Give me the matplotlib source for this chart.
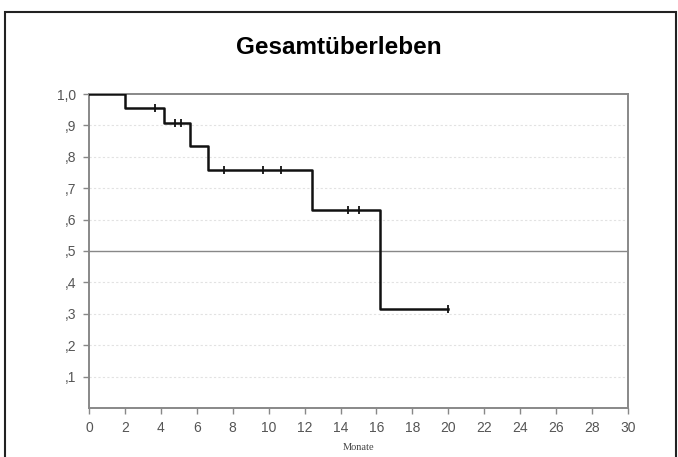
import matplotlib.pyplot as plt
from matplotlib.patches import Rectangle

# Kaplan-Meier Schritte (Monate, Überlebensrate)
step_times = [0, 2.0, 4.2, 5.6, 6.6, 12.4, 16.2, 20.0]
step_surv = [1.0, 0.955, 0.909, 0.833, 0.758, 0.632, 0.316, 0.316]

# zensierte Fälle
censor_times = [3.7, 4.8, 5.1, 7.5, 9.7, 10.7, 14.4, 15.0, 20.0]
censor_surv = [0.955, 0.909, 0.909, 0.758, 0.758, 0.758, 0.632, 0.632, 0.316]

x_ticks = list(range(0, 31, 2))
y_ticks = [0.1, 0.2, 0.3, 0.4, 0.5, 0.6, 0.7, 0.8, 0.9, 1.0]
y_labels = [',1', ',2', ',3', ',4', ',5', ',6', ',7', ',8', ',9', '1,0']

fig = plt.figure(figsize=(6.78, 4.57), dpi=100)

# outer frame
fig.patches.append(Rectangle((5 / 678, -0.05), 671 / 678, 1.05 - 12 / 457,
                             transform=fig.transFigure, fill=False,
                             edgecolor='#222222', linewidth=1.5))

fig.text(0.5, 1 - 47 / 457, 'Gesamtüberleben', ha='center', va='center',
         fontsize=17.5, fontweight='bold', family='Liberation Sans')

ax = fig.add_axes([89 / 678, 1 - 408 / 457, 539 / 678, 314 / 457])

for y in y_ticks:
    if y == 0.5:
        ax.axhline(y, color='#888888', linewidth=1.0, zorder=1)
    elif y < 1.0:
        ax.axhline(y, color='#e2e2e2', linewidth=0.8, linestyle=(0, (2, 2)), zorder=1)

ax.step(step_times, step_surv, where='post', color='#111111', linewidth=1.8, zorder=3)
ax.plot(censor_times, censor_surv, linestyle='none', marker='|', markersize=5.5,
        markeredgewidth=1.3, color='#111111', zorder=4)

ax.set_xlim(0, 30)
ax.set_ylim(0, 1.0)
ax.set_xticks(x_ticks)
ax.set_xticklabels([str(t) for t in x_ticks], family='Liberation Sans')
ax.set_yticks(y_ticks)
ax.set_yticklabels(y_labels, family='Liberation Sans')

for s in ax.spines.values():
    s.set_color('#888888')
    s.set_linewidth(1.4)
ax.tick_params(colors='#888888', labelcolor='#555555', labelsize=10,
               length=4, width=1.0, direction='out', pad=5)

ax.set_xlabel('Monate', family='Liberation Serif', fontsize=7.5, color='#444444', labelpad=6)

fig.savefig('out.png', dpi=100)
